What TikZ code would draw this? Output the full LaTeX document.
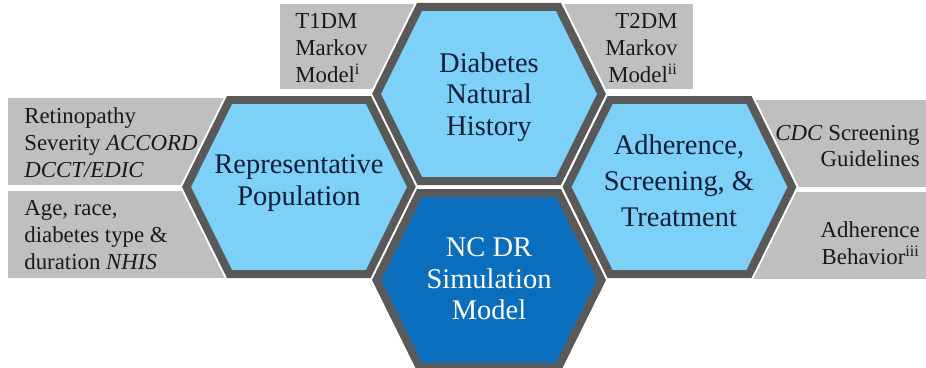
\documentclass[tikz,border=0pt]{standalone}
\usepackage{fontspec}
\setmainfont{Liberation Serif}
\definecolor{hexblue}{HTML}{7DD0F8}
\definecolor{hexdark}{HTML}{0A6EBD}
\definecolor{hexrim}{HTML}{595959}
\definecolor{boxgray}{HTML}{BFBFBF}
\definecolor{inktext}{HTML}{0E1E38}
\begin{document}
\begin{tikzpicture}[x=0.02cm, y=-0.02cm,
  hexcell/.style={draw=hexrim, line width=0.16cm, fill=hexblue,
    preaction={draw=white, line width=0.24cm}},
  hextext/.style={align=center, inner sep=0pt, text=inktext,
    font=\fontsize{16.2}{18}\selectfont},
  boxtext/.style={inner sep=0pt, text=black!90,
    font=\fontsize{13}{15.3}\selectfont}]

\useasboundingbox (0,0) rectangle (926,368);

% grey source boxes
\fill[boxgray] (280,4) rectangle (430,89);
\fill[boxgray] (550,4) rectangle (693,89);
\fill[boxgray] (8,98) rectangle (300,185);
\fill[boxgray] (8,191) rectangle (300,278);
\fill[boxgray] (680,100) rectangle (926,187);
\fill[boxgray] (680,192) rectangle (926,279);

\node[boxtext, anchor=west, align=left] (t1dm) at (295,48) {T1DM\\Markov\\Model\textsuperscript{i}};
\node[boxtext, anchor=east, align=right] (t2dm) at (678,48) {T2DM\\Markov\\Model\textsuperscript{ii}};
\node[boxtext, anchor=west, align=left] (retino) at (24,143) {Retinopathy\\Severity \textit{ACCORD}\\\textit{DCCT/EDIC}};
\node[boxtext, anchor=west, align=left] (demog) at (24,235) {Age, race,\\diabetes type \&\\duration \textit{NHIS}};
\node[boxtext, anchor=east, align=right] (cdc) at (920,146) {\textit{CDC} Screening\\Guidelines};
\node[boxtext, anchor=east, align=right] (behav) at (920,243) {Adherence\\Behavior\textsuperscript{iii}};

% honeycomb
\draw[hexcell, shift={(489,94)}] (-112.5,0) -- (-69.5,-87) -- (69.5,-87) -- (112.5,0) -- (69.5,87) -- (-69.5,87) -- cycle;
\draw[hexcell, shift={(299,187)}] (-112.5,0) -- (-69.5,-87) -- (69.5,-87) -- (112.5,0) -- (69.5,87) -- (-69.5,87) -- cycle;
\draw[hexcell, shift={(679.5,187)}] (-112.5,0) -- (-69.5,-87) -- (69.5,-87) -- (112.5,0) -- (69.5,87) -- (-69.5,87) -- cycle;
\draw[hexcell, fill=hexdark, shift={(489,280)}] (-112.5,0) -- (-69.5,-87) -- (69.5,-87) -- (112.5,0) -- (69.5,87) -- (-69.5,87) -- cycle;

\node[hextext] (hist) at (489,97) {Diabetes\\Natural\\History};
\node[hextext] (pop) at (299,183) {Representative\\Population};
\node[hextext, font=\fontsize{16.2}{20.5}\selectfont] (adh) at (679,181) {Adherence,\\Screening, \&\\Treatment};
\node[hextext, text=white] (sim) at (489,279) {NC DR\\Simulation\\Model};

\end{tikzpicture}
\end{document}
